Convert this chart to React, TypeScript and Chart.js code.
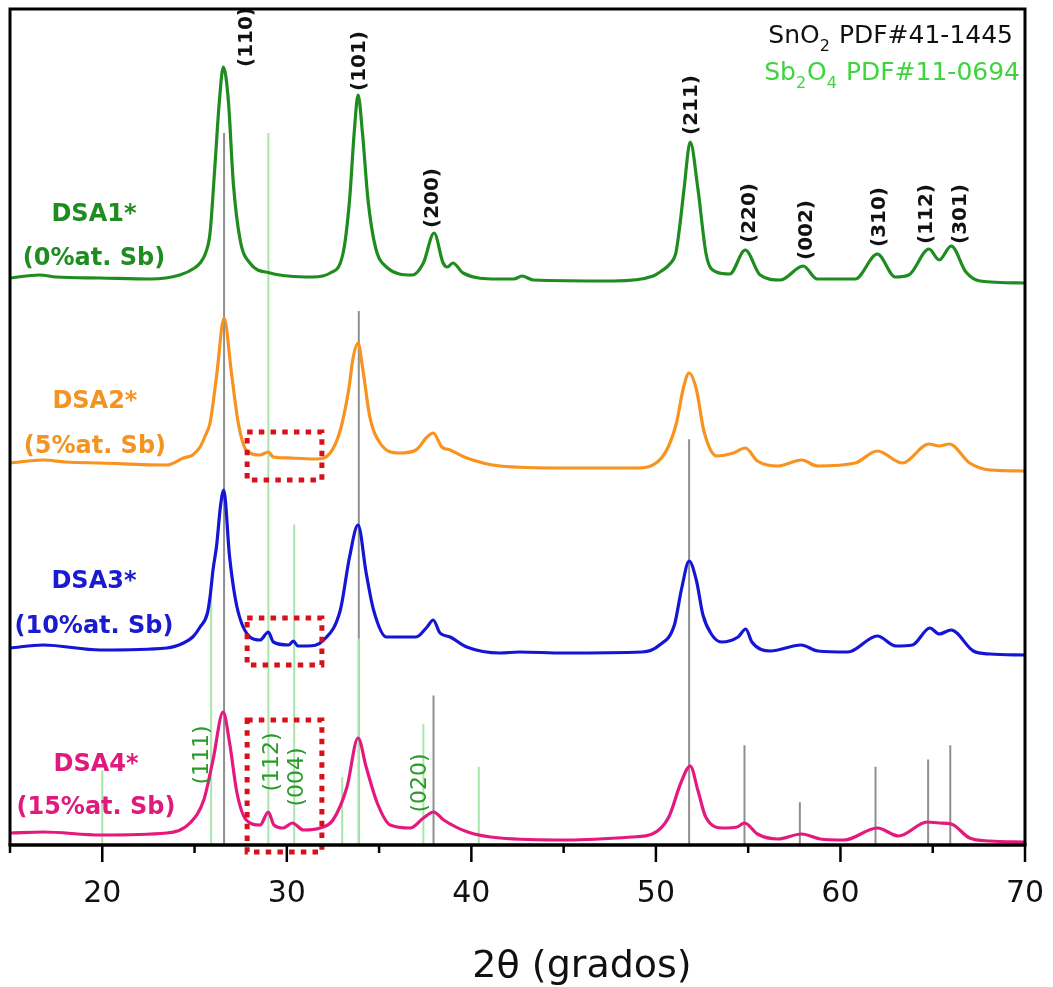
import React, { useEffect, useRef } from 'react';
import { Chart, registerables } from 'chart.js';

Chart.register(...registerables);

// ---------------- data (2θ in degrees, intensity in stacked a.u.) ----------------
const X_TICKS = [15, 20, 25, 30, 35, 40, 45, 50, 55, 60, 65, 70];

const DSA1: [number, number][] = [
  [15.0, 567], [16.6, 570], [17.5, 568], [19.9, 567], [22.6, 566], [24.2, 570], [25.0, 577], [25.3, 582],
  [25.6, 592], [25.84, 612], [26.1, 678], [26.35, 745], [26.56, 778], [26.83, 745], [27.1, 662], [27.47, 605],
  [28.0, 582], [29.1, 572], [31.4, 568], [32.35, 572], [33.05, 592], [33.4, 645], [33.65, 712], [33.86, 750],
  [34.1, 712], [34.4, 645], [34.8, 598], [35.4, 578], [36.8, 570], [37.4, 582], [37.98, 612], [38.47, 582],
  [38.7, 578], [39.0, 582], [39.55, 572], [41.4, 566], [42.3, 566], [42.75, 569], [43.35, 565], [47.7, 564],
  [49.85, 569], [50.3, 574], [50.8, 582], [51.08, 592], [51.3, 620], [51.53, 657], [51.86, 703], [52.27, 657],
  [52.73, 590], [53.27, 573], [54.0, 571], [54.84, 595], [55.65, 570], [56.74, 565], [57.98, 579], [58.74, 566],
  [60.8, 566], [62.0, 591], [62.97, 568], [63.7, 570], [64.8, 596], [65.35, 585], [66.0, 599], [66.8, 573],
  [67.56, 564], [70.0, 562],
];

const DSA2: [number, number][] = [
  [15.0, 382], [16.8, 385], [18.0, 383], [19.9, 382], [23.5, 380], [24.4, 387], [24.9, 390], [25.3, 398],
  [25.6, 410], [25.84, 422], [26.2, 470], [26.6, 527], [27.0, 472], [27.37, 422], [27.8, 395], [28.55, 390],
  [29.0, 393], [29.27, 388], [30.2, 387], [31.6, 386], [32.35, 392], [32.9, 415], [33.35, 455], [33.6, 488],
  [33.86, 502], [34.1, 478], [34.5, 428], [35.05, 402], [36.1, 392], [37.0, 395], [37.6, 408], [37.93, 412],
  [38.4, 398], [38.85, 395], [39.75, 387], [41.56, 379], [45.0, 377], [48.9, 377], [50.3, 387], [51.1, 421],
  [51.5, 458], [51.8, 472], [52.2, 455], [52.6, 414], [53.3, 389], [54.2, 392], [54.85, 397], [55.5, 384],
  [56.6, 379], [57.9, 385], [58.75, 379], [60.8, 382], [62.0, 394], [63.35, 382], [64.8, 401], [65.35, 399],
  [65.9, 401], [67.0, 382], [68.1, 375], [70.0, 374],
];

const DSA3: [number, number][] = [
  [15.0, 197], [16.8, 200], [19.9, 195], [23.5, 197], [24.4, 202], [24.9, 208], [25.3, 218], [25.7, 232],
  [25.84, 248], [26.0, 275], [26.2, 300], [26.4, 338], [26.58, 355], [26.9, 288], [27.3, 238], [28.0, 208],
  [28.55, 205], [29.0, 213], [29.27, 203], [30.1, 200], [30.35, 204], [30.6, 199], [31.1, 199], [32.0, 205],
  [32.9, 235], [33.4, 288], [33.86, 320], [34.3, 272], [34.7, 235], [35.4, 208], [37.0, 208], [37.6, 218],
  [37.93, 225], [38.3, 212], [38.85, 208], [39.75, 198], [41.56, 192], [42.6, 193], [45.0, 192], [49.25, 193],
  [50.2, 200], [51.0, 220], [51.4, 257], [51.8, 284], [52.2, 264], [52.55, 230], [53.0, 211], [53.55, 203],
  [54.45, 208], [54.87, 216], [55.2, 203], [56.2, 194], [57.86, 200], [58.77, 194], [60.4, 193], [62.0, 209],
  [63.0, 199], [63.9, 200], [64.85, 217], [65.35, 211], [66.0, 215], [67.2, 194], [68.1, 191], [70.0, 190],
];

const DSA4: [number, number][] = [
  [15.0, 12], [16.8, 13], [19.9, 10], [23.5, 12], [24.75, 22], [25.5, 45], [26.0, 85], [26.55, 133],
  [26.9, 102], [27.3, 52], [27.8, 25], [28.55, 20], [29.0, 33], [29.3, 20], [29.8, 17], [30.3, 22],
  [30.9, 15], [31.8, 17], [32.5, 25], [33.26, 58], [33.86, 107], [34.3, 78], [34.9, 42], [35.6, 20],
  [36.7, 17], [37.4, 27], [37.95, 33], [38.5, 25], [39.8, 13], [41.56, 7], [45.2, 5], [48.7, 8],
  [49.8, 11], [50.7, 28], [51.35, 62], [51.86, 79], [52.27, 55], [52.7, 28], [53.65, 17], [54.4, 18],
  [54.8, 22], [55.5, 11], [56.6, 6], [57.9, 11], [58.9, 6], [60.2, 5], [62.0, 17], [63.15, 9],
  [64.7, 23], [65.35, 22], [66.0, 21], [67.0, 7], [68.1, 4], [70.0, 3],
];

// reference patterns: [2θ, relative intensity %]
const SNO2_REF: [number, number][] = [
  [26.6, 100], [33.9, 75], [37.95, 21], [51.8, 57], [54.8, 14], [57.8, 6], [61.9, 11], [64.75, 12], [65.95, 14],
];
const SB2O4_REF: [number, number][] = [
  [20.0, 10.5], [25.9, 35], [29.0, 100], [30.4, 45], [33.0, 9.5], [33.9, 29], [37.4, 17], [40.4, 11],
];
const REF_SCALE = 7.12; // a.u. per % of reference intensity

// annotations (anchors in data units)
const SNO2_HKL = ['(110)', '(101)', '(200)', '(211)', '(220)', '(002)', '(310)', '(112)', '(301)'];
const SNO2_HKL_AT: [number, number][] = [
  [27.85, 808], [33.97, 784], [37.93, 647], [51.97, 740], [55.11, 632], [58.2, 615], [62.15, 628], [64.7, 631], [66.54, 631],
];
const SB2O4_HKL = ['(111)', '(112)', '(004)', '(020)'];
const SB2O4_HKL_AT: [number, number][] = [[25.4, 90], [29.2, 83], [30.56, 68], [37.22, 62]];

const SAMPLE_NAMES = ['DSA1*', 'DSA2*', 'DSA3*', 'DSA4*'];
const SAMPLE_SB = ['(0%at. Sb)', '(5%at. Sb)', '(10%at. Sb)', '(15%at. Sb)'];
const SAMPLE_LABEL_AT: [number, number, number][] = [
  [19.55, 630, 586], [19.6, 443, 398], [19.55, 263, 218], [19.66, 80, 37],
];

const HIGHLIGHT_X: [number, number] = [27.85, 31.9];
const HIGHLIGHT_Y: [number, number][] = [[365, 413], [180, 227], [-7, 125]];

// ---------------- styles ----------------
const SERIES_COLORS = ['#1f8c1f', '#f7931e', '#1515d6', '#e5187e'];
const LABEL_COLORS = ['#1f8c1f', '#f39322', '#1a1ad0', '#e0197d'];
const SNO2_COLOR = '#8f8f8f';
const SB2O4_COLOR = '#a9e6a9';
const SB2O4_TEXT = '#3dd43d';
const SB2O4_HKL_COLOR = '#2a9a2a';
const RED = '#d8101a';
const FONT = '"DejaVu Sans", sans-serif';

type Part = { t: string; sub?: boolean };
const LEGEND: { parts: Part[]; color: string; right: number; base: number }[] = [
  { parts: [{ t: 'SnO' }, { t: '2', sub: true }, { t: ' PDF#41-1445' }], color: '#111', right: 1013, base: 43 },
  { parts: [{ t: 'Sb' }, { t: '2', sub: true }, { t: 'O' }, { t: '4', sub: true }, { t: ' PDF#11-0694' }], color: SB2O4_TEXT, right: 1020, base: 80 },
];

const overlayPlugin = {
  id: 'overlay',
  afterDraw(chart: any) {
    const ctx: CanvasRenderingContext2D = chart.ctx;
    const xs = chart.scales.x;
    const ys = chart.scales.y;
    const X = (v: number) => xs.getPixelForValue(v);
    const Y = (v: number) => ys.getPixelForValue(v);
    const { left, right, top, bottom } = chart.chartArea;
    ctx.save();

    // dotted highlight boxes
    ctx.strokeStyle = RED;
    ctx.lineWidth = 5;
    ctx.setLineDash([5.5, 6.2]);
    HIGHLIGHT_Y.forEach(([y0, y1]) => {
      const x0 = X(HIGHLIGHT_X[0]);
      const x1 = X(HIGHLIGHT_X[1]);
      ctx.strokeRect(x0, Y(y1), x1 - x0, Y(y0) - Y(y1));
    });
    ctx.setLineDash([]);

    const rot = (text: string, x: number, y: number, font: string, color: string) => {
      ctx.save();
      ctx.translate(X(x), Y(y));
      ctx.rotate(-Math.PI / 2);
      ctx.font = font;
      ctx.fillStyle = color;
      ctx.textAlign = 'center';
      ctx.textBaseline = 'middle';
      ctx.fillText(text, 0, 0);
      ctx.restore();
    };
    SNO2_HKL.forEach((t, i) => rot(t, SNO2_HKL_AT[i][0], SNO2_HKL_AT[i][1], `bold 20px ${FONT}`, '#111'));
    SB2O4_HKL.forEach((t, i) => rot(t, SB2O4_HKL_AT[i][0], SB2O4_HKL_AT[i][1], `22px ${FONT}`, SB2O4_HKL_COLOR));

    // sample labels
    ctx.textAlign = 'center';
    ctx.textBaseline = 'middle';
    ctx.font = `bold 24px ${FONT}`;
    SAMPLE_NAMES.forEach((name, i) => {
      const [x, y1, y2] = SAMPLE_LABEL_AT[i];
      ctx.fillStyle = LABEL_COLORS[i];
      ctx.fillText(name, X(x), Y(y1));
      ctx.fillText(SAMPLE_SB[i], X(x), Y(y2));
    });

    // frame
    ctx.strokeStyle = '#000';
    ctx.lineWidth = 3;
    ctx.beginPath();
    ctx.moveTo(left, bottom);
    ctx.lineTo(left, top);
    ctx.lineTo(right, top);
    ctx.lineTo(right, bottom);
    ctx.stroke();
    ctx.lineWidth = 3.5;
    ctx.beginPath();
    ctx.moveTo(left - 1.5, bottom);
    ctx.lineTo(right + 1.5, bottom);
    ctx.stroke();

    // ticks
    ctx.lineWidth = 2.5;
    X_TICKS.forEach((v) => {
      const px = X(v);
      const len = v % 10 === 0 ? 17 : 8;
      ctx.beginPath();
      ctx.moveTo(px, bottom);
      ctx.lineTo(px, bottom + len);
      ctx.stroke();
    });

    // axis title
    ctx.fillStyle = '#111';
    ctx.font = `38px ${FONT}`;
    ctx.textAlign = 'center';
    ctx.textBaseline = 'alphabetic';
    ctx.fillText('2\u03b8 (grados)', 582, 977);

    // reference legend (with subscripts)
    ctx.textAlign = 'left';
    LEGEND.forEach((line) => {
      const normal = `25px ${FONT}`;
      const small = `16px ${FONT}`;
      let w = 0;
      line.parts.forEach((p) => {
        ctx.font = p.sub ? small : normal;
        w += ctx.measureText(p.t).width + (p.sub ? 1 : 0);
      });
      let x = line.right - w;
      ctx.fillStyle = line.color;
      line.parts.forEach((p) => {
        ctx.font = p.sub ? small : normal;
        ctx.fillText(p.t, x, line.base + (p.sub ? 8 : 0));
        x += ctx.measureText(p.t).width + (p.sub ? 1 : 0);
      });
    });

    ctx.restore();
  },
};

export default function App() {
  const ref = useRef<HTMLCanvasElement | null>(null);

  useEffect(() => {
    const canvas = ref.current;
    if (!canvas) return;

    const curve = (pts: [number, number][], color: string) => ({
      data: pts.map(([x, y]) => ({ x, y })),
      borderColor: color,
      borderWidth: 3.2,
      pointRadius: 0,
      fill: false,
      tension: 0.4,
      cubicInterpolationMode: 'monotone' as const,
      order: 1,
    });
    const sticks = (refs: [number, number][], color: string, order: number) => ({
      data: refs.flatMap(([x, i]) => [{ x, y: 0 }, { x, y: i * REF_SCALE }, { x, y: null }]),
      borderColor: color,
      borderWidth: 2,
      pointRadius: 0,
      fill: false,
      spanGaps: false,
      tension: 0,
      order,
    });

    const chart = new Chart(canvas, {
      type: 'line',
      data: {
        datasets: [
          sticks(SNO2_REF, SNO2_COLOR, 6),
          sticks(SB2O4_REF, SB2O4_COLOR, 5),
          curve(DSA1, SERIES_COLORS[0]),
          curve(DSA2, SERIES_COLORS[1]),
          curve(DSA3, SERIES_COLORS[2]),
          curve(DSA4, SERIES_COLORS[3]),
        ] as any,
      },
      options: {
        animation: false,
        responsive: false,
        maintainAspectRatio: false,
        layout: { padding: { left: 10, right: 28, top: 9, bottom: 52 } },
        plugins: {
          legend: { display: false },
          tooltip: { enabled: false },
        },
        scales: {
          x: {
            type: 'linear',
            min: 15,
            max: 70,
            border: { display: false },
            grid: { display: false, drawTicks: false },
            ticks: {
              stepSize: 5,
              autoSkip: false,
              maxRotation: 0,
              padding: 31,
              color: '#111',
              font: { family: 'DejaVu Sans', size: 30 },
              callback: (v: any) => (Number(v) % 10 === 0 ? String(v) : ''),
            },
            afterFit: (s: any) => {
              s.height = 90;
              s.paddingLeft = 0;
              s.paddingRight = 0;
            },
          },
          y: {
            display: false,
            min: 0,
            max: 836,
          },
        },
      },
      plugins: [overlayPlugin],
    });

    return () => chart.destroy();
  }, []);

  return (
    <div style={{ position: 'fixed', left: 0, top: 0, width: 1053, height: 987, background: '#fff' }}>
      <canvas ref={ref} width={1053} height={987} style={{ display: 'block', width: 1053, height: 987 }} />
    </div>
  );
}
